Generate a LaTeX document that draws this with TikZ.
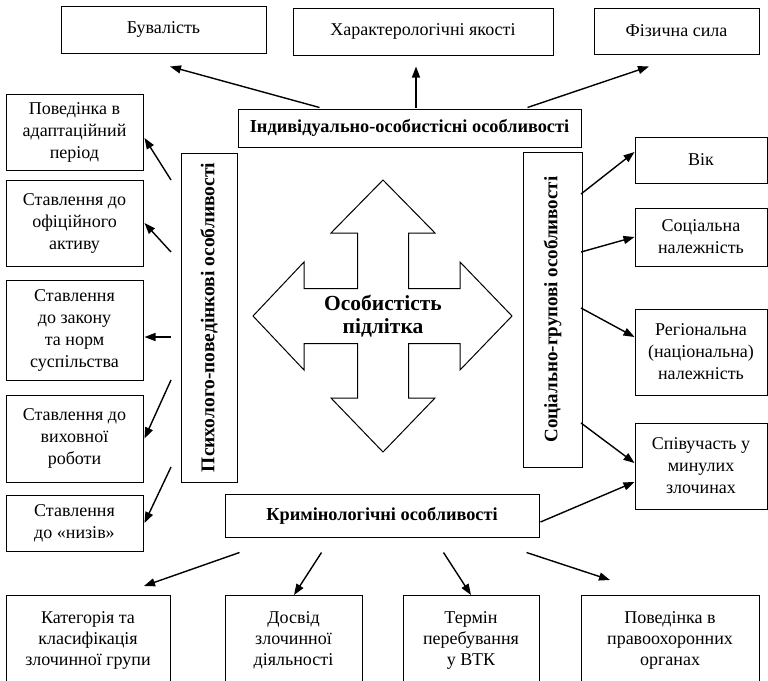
\documentclass[tikz,border=0pt]{standalone}
\usepackage{fontspec}
\setmainfont{Liberation Serif}
\usetikzlibrary{arrows.meta,calc}
\begin{document}
\begin{tikzpicture}[x=1pt,y=-1pt,
  box/.style={draw, line width=1pt, align=center, inner sep=0pt, font=\fontsize{18}{22}\selectfont},
  lbl/.style={draw, line width=1pt, align=center, inner sep=0pt, font=\fontsize{18.3}{22}\selectfont\bfseries},
  arr/.style={-{Triangle[length=11pt,width=8pt]}, line width=1.4pt},
  bigarrow/.style={draw, line width=1pt, fill=white}
]
\useasboundingbox (0,0) rectangle (768,680);
\clip (0,0) rectangle (768,680);

% central four-way arrow
\draw[bigarrow] (383,180) -- (435,233) -- (408.5,233) -- (408.5,288.5) -- (460,288.5) -- (460,262)
  -- (512,316) -- (460,370) -- (460,343.5) -- (408.5,343.5) -- (408.5,398) -- (435,398)
  -- (383,452) -- (331,398) -- (357.5,398) -- (357.5,343.5) -- (304,343.5) -- (304,370)
  -- (253,316) -- (304,262) -- (304,288.5) -- (357.5,288.5) -- (357.5,233) -- (331,233) -- cycle;
\node[align=center, font=\fontsize{21.5}{23}\selectfont\bfseries] (core) at (383,316) {Особистість\\підлітка};

% top
\node[box, minimum width=205pt, minimum height=47pt] (buv) at (163.5,29.5) {Бувалість};
\node[box, minimum width=260pt, minimum height=47pt] (har) at (423,31.5) {Характерологічні якості};
\node[box, minimum width=165pt, minimum height=46pt] (fiz) at (676.5,31) {Фізична сила};
\node[lbl, minimum width=343pt, minimum height=38pt] (ind) at (409.5,128) {Індивідуально-особистісні особливості};

% left
\node[box, minimum width=137pt, minimum height=76pt] (l1) at (74.5,132) {Поведінка в\\адаптаційний\\період};
\node[box, minimum width=137pt, minimum height=86pt] (l2) at (74.5,223) {Ставлення до\\офіційного\\активу};
\node[box, minimum width=137pt, minimum height=100pt] (l3) at (74.5,330) {Ставлення\\до закону\\та норм\\суспільства};
\node[box, minimum width=137pt, minimum height=87pt] (l4) at (74.5,438.5) {Ставлення до\\виховної\\роботи};
\node[box, minimum width=137pt, minimum height=56pt] (l5) at (74.5,523) {Ставлення\\до «низів»};
\node[lbl, rotate=90, minimum width=329pt, minimum height=56pt, font=\fontsize{19.5}{22}\selectfont\bfseries] (psy) at (209,317.5) {Психолого-поведінкові особливості};

% right
\node[lbl, rotate=90, minimum width=315pt, minimum height=59pt, font=\fontsize{19}{22}\selectfont\bfseries] (soc) at (552.5,309.5) {Соціально-групові особливості};
\node[box, minimum width=132pt, minimum height=46pt] (r1) at (701,160) {Вік};
\node[box, minimum width=132pt, minimum height=58pt] (r2) at (701,237) {Соціальна\\належність};
\node[box, minimum width=132pt, minimum height=86pt] (r3) at (701,352) {Регіональна\\(національна)\\належність};
\node[box, minimum width=132pt, minimum height=86pt] (r4) at (701,466) {Співучасть у\\минулих\\злочинах};

% bottom
\node[lbl, minimum width=314pt, minimum height=43pt] (krym) at (382,515.5) {Кримінологічні особливості};
\node[box, anchor=north, minimum width=164pt, minimum height=90pt, font=\fontsize{18}{21}\selectfont] (b1) at (88,595) {Категорія та\\класифікація\\злочинної групи};
\node[box, anchor=north, minimum width=137pt, minimum height=90pt, font=\fontsize{18}{21}\selectfont] (b2) at (293.5,595) {Досвід\\злочинної\\діяльності};
\node[box, anchor=north, minimum width=136pt, minimum height=90pt, font=\fontsize{18}{21}\selectfont] (b3) at (471,595) {Термін\\перебування\\у ВТК};
\node[box, anchor=north, minimum width=178pt, minimum height=90pt, font=\fontsize{18}{21}\selectfont] (b4) at (670,595) {Поведінка в\\правоохоронних\\органах};

% arrows top
\draw[arr] ($(ind.north west)+(82,-1)$) -- ($(buv.south)+(6.5,13)$);
\draw[arr] ($(ind.north)+(6.5,-1)$) -- ($(har.south)+(-7,11)$);
\draw[arr] ($(ind.north east)+(-54,-1)$) -- ($(fiz.south)+(-27.5,12)$);

% arrows left
\draw[arr] ($(psy.center)+(-38,-137.5)$) -- ($(l1.east)+(1,6)$);
\draw[arr] ($(psy.center)+(-38,-65.5)$) -- ($(l2.east)+(1,0)$);
\draw[arr] ($(psy.center)+(-38,19.5)$) -- ($(l3.east)+(1,7)$);
\draw[arr] ($(psy.center)+(-38,62.5)$) -- ($(l4.east)+(1,0)$);
\draw[arr] ($(psy.center)+(-38,149.5)$) -- ($(l5.east)+(1,0)$);

% arrows right
\draw[arr] ($(soc.center)+(28.5,-115.5)$) -- ($(r1.west)+(0,-8)$);
\draw[arr] ($(soc.center)+(28.5,-57.5)$) -- (r2.west);
\draw[arr] ($(soc.center)+(28.5,-1.5)$) -- ($(r3.west)+(0,-15)$);
\draw[arr] ($(soc.center)+(28.5,113.5)$) -- ($(r4.west)+(0,-3)$);
\draw[arr] ($(krym.east)+(1,6.5)$) -- ($(r4.west)+(0,16)$);

% arrows bottom
\draw[arr] ($(krym.south west)+(15,15)$) -- ($(b1.north)+(56,-9)$);
\draw[arr] ($(krym.south west)+(97,15)$) -- ($(b2.north)+(0.5,0)$);
\draw[arr] ($(krym.south east)+(-96,15)$) -- (b3.north);
\draw[arr] ($(krym.south east)+(-13,15)$) -- ($(b4.north)+(-60,-15)$);
\end{tikzpicture}
\end{document}
